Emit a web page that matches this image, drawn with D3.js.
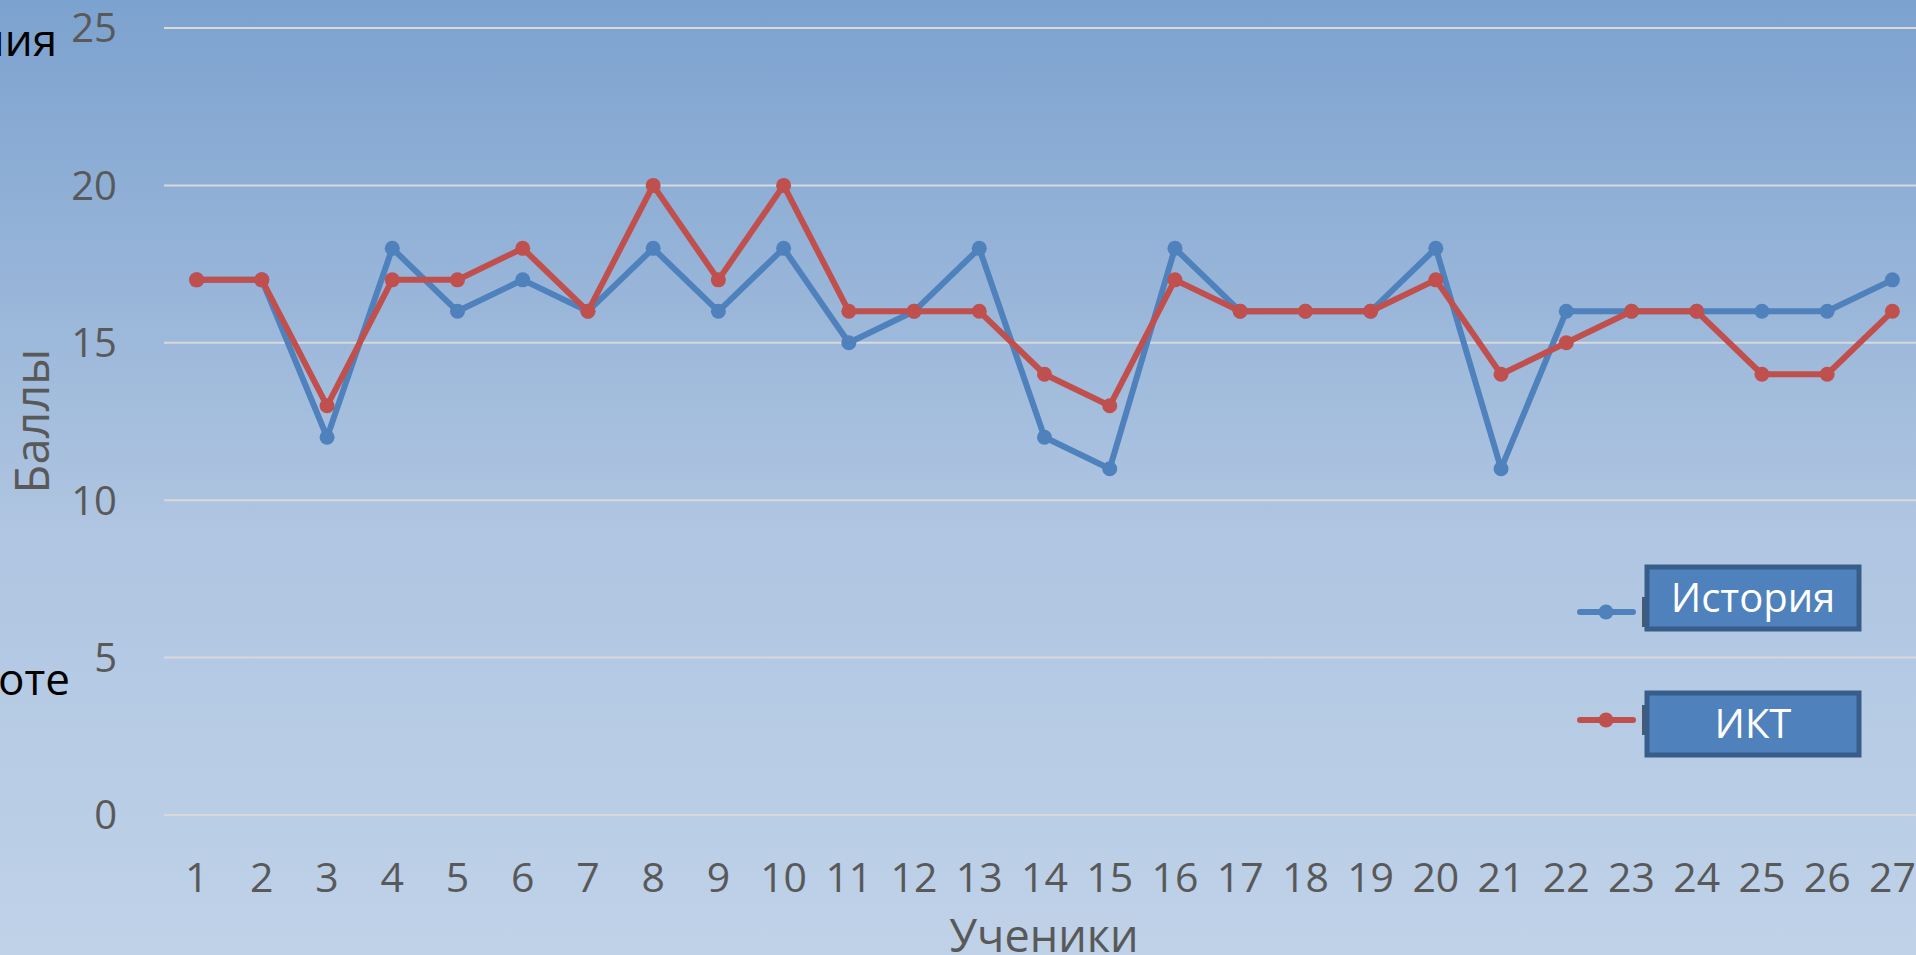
<!DOCTYPE html>
<html>
<head>
<meta charset="utf-8">
<script src="https://cdn.jsdelivr.net/npm/d3@7"></script>
<style>
  body { margin: 0; overflow: hidden; }
  text { font-family: "Open Sans", "Noto Sans", sans-serif; }
</style>
</head>
<body>
<div class="chart"></div>
<script>
// data
let students = d3.range(1, 28).map(String);
let history = [17,17,12,18,16,17,16,18,16,18,15,16,18,12,11,18,16,16,16,18,11,16,16,16,16,16,17];
let ikt     = [17,17,13,17,17,18,16,20,17,20,16,16,16,14,13,17,16,16,16,17,14,15,16,16,14,14,16];
let yTicks = [0, 5, 10, 15, 20, 25];
let seriesNames = ["История", "ИКТ"];
let seriesColors = ["#4F81BD", "#C0504D"];

var width = 1916, height = 955;

let svg = d3.select('.chart')
    .append('svg')
    .attr('width', width)
    .attr('height', height)

let defs = svg.append('defs')
let grad = defs.append('linearGradient')
    .attr('id', 'bg')
    .attr('x1', 0).attr('y1', 0).attr('x2', 0).attr('y2', 1)
grad.append('stop').attr('offset', '0%').attr('stop-color', '#7CA2CF')
grad.append('stop').attr('offset', '55%').attr('stop-color', '#AFC5E1')
grad.append('stop').attr('offset', '100%').attr('stop-color', '#BFD2E8')

svg.append('rect')
    .attr('width', width)
    .attr('height', height)
    .attr('fill', 'url(#bg)')

let x = d3.scalePoint()
    .domain(students)
    .range([164, 1925])
    .padding(0.5)

let y = d3.scaleLinear()
    .domain([0, 25])
    .range([815, 28])

// gridlines
svg.append('g')
    .selectAll('line')
    .data(yTicks)
    .enter().append('line')
    .attr('x1', 164)
    .attr('x2', width)
    .attr('y1', d => y(d))
    .attr('y2', d => y(d))
    .attr('stroke', '#D9D9D9')
    .attr('stroke-width', 2)

// y axis labels
svg.append('g')
    .selectAll('text')
    .data(yTicks)
    .enter().append('text')
    .attr('x', 117)
    .attr('y', d => y(d))
    .attr('dy', '0.36em')
    .attr('text-anchor', 'end')
    .attr('fill', '#595959')
    .attr('font-size', 40)
    .text(d => d)

// x axis labels
svg.append('g')
    .selectAll('text')
    .data(students)
    .enter().append('text')
    .attr('x', d => x(d))
    .attr('y', 892)
    .attr('text-anchor', 'middle')
    .attr('fill', '#595959')
    .attr('font-size', 41)
    .text(d => d)

// axis titles
svg.append('text')
    .attr('x', 1044)
    .attr('y', 952)
    .attr('text-anchor', 'middle')
    .attr('fill', '#595959')
    .attr('font-size', 45)
    .text('Ученики')

svg.append('text')
    .attr('transform', 'translate(49,421) rotate(-90)')
    .attr('text-anchor', 'middle')
    .attr('fill', '#595959')
    .attr('font-size', 47)
    .text('Баллы')

// cut off texts at the left edge
svg.append('text')
    .attr('x', 57).attr('y', 56)
    .attr('text-anchor', 'end')
    .attr('fill', '#000')
    .attr('font-size', 44)
    .text('Тестирования')
svg.append('text')
    .attr('x', 70).attr('y', 695)
    .attr('text-anchor', 'end')
    .attr('fill', '#000')
    .attr('font-size', 44)
    .text('по работе')

// lines
let line = d3.line()
    .x((d, i) => x(students[i]))
    .y(d => y(d))

let series = [history, ikt];
series.forEach((vals, s) => {
    let g = svg.append('g')
    g.append('path')
        .datum(vals)
        .attr('d', line)
        .attr('fill', 'none')
        .attr('stroke', seriesColors[s])
        .attr('stroke-width', 6)
        .attr('stroke-linejoin', 'round')
    g.selectAll('circle')
        .data(vals)
        .enter().append('circle')
        .attr('cx', (d, i) => x(students[i]))
        .attr('cy', d => y(d))
        .attr('r', 7.5)
        .attr('fill', seriesColors[s])
})

// legend
let legendY = [612, 720];
let boxY = [567, 693];
seriesNames.forEach((name, i) => {
    let ly = legendY[i];
    svg.append('line')
        .attr('x1', 1580).attr('x2', 1633)
        .attr('y1', ly).attr('y2', ly)
        .attr('stroke', seriesColors[i])
        .attr('stroke-width', 6)
        .attr('stroke-linecap', 'round')
    svg.append('circle')
        .attr('cx', 1606).attr('cy', ly).attr('r', 7.5)
        .attr('fill', seriesColors[i])
    svg.append('rect')
        .attr('x', 1642).attr('y', ly - 15)
        .attr('width', 4).attr('height', 30)
        .attr('fill', '#4A5A6A')
    svg.append('rect')
        .attr('x', 1647).attr('y', boxY[i])
        .attr('width', 212).attr('height', 62)
        .attr('fill', '#4F81BD')
        .attr('stroke', '#385D8A')
        .attr('stroke-width', 5)
    svg.append('text')
        .attr('x', 1753).attr('y', boxY[i] + 31)
        .attr('dy', '0.36em')
        .attr('text-anchor', 'middle')
        .attr('fill', '#fff')
        .attr('font-size', 40)
        .text(name)
})
</script>
</body>
</html>
